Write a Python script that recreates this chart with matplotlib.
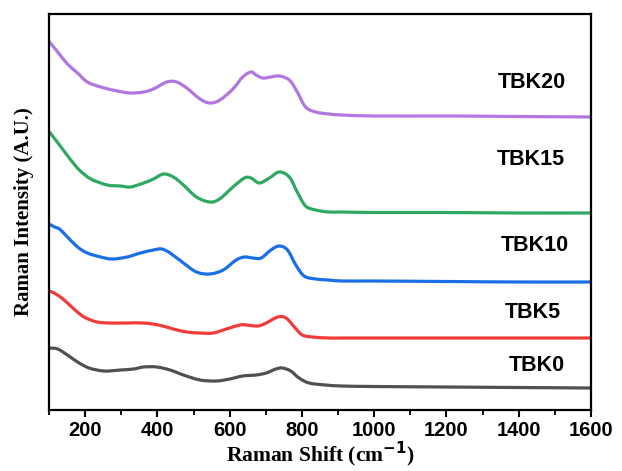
import matplotlib
matplotlib.use("Agg")
import numpy as np
import matplotlib.pyplot as plt
from matplotlib.path import Path
from matplotlib.patches import PathPatch
from matplotlib.ticker import MultipleLocator

# Raman spectra (stacked, arbitrary units)
x_tbk20 = [101, 124, 151, 179, 206, 243, 289, 325, 362, 389, 426, 453, 481, 518, 545, 573,
           609, 636, 659, 673, 691, 714, 737, 765, 787, 810, 838, 874, 911, 1000, 1200, 1400, 1600]
y_tbk20 = [366, 356, 344, 335, 326, 321, 317, 315, 316, 319, 326, 326, 320, 309, 305, 308,
           319, 331, 336, 333, 330, 331, 332, 328, 316, 301, 296, 294, 293, 292, 292, 291.5, 291]

x_tbk15 = [101, 129, 156, 184, 216, 261, 298, 325, 362, 389, 417, 444, 472, 508, 545, 572,
           609, 641, 659, 682, 710, 737, 765, 787, 810, 838, 874, 911, 1000, 1200, 1400, 1600]
y_tbk15 = [276, 263, 250, 238, 229, 223, 222, 221, 225, 229, 234, 231, 223, 211, 206, 209,
           221, 230, 230, 225, 230, 236, 231, 216, 202, 198, 196, 196, 195.5, 195.5, 195, 195]

x_tbk10 = [101, 115, 129, 151, 179, 206, 243, 275, 316, 353, 389, 412, 435, 472, 508, 545,
           582, 618, 641, 664, 687, 714, 737, 760, 783, 806, 838, 874, 911, 1000, 1200, 1400, 1600]
y_tbk10 = [184, 181, 179, 171, 161, 155, 151, 149, 151, 155, 158, 159, 155, 145, 136, 134,
           138, 148, 151, 150, 150, 158, 162, 158, 143, 132, 129, 128, 127, 127, 126.5, 126, 126]

x_tbk5 = [101, 119, 142, 169, 197, 233, 270, 316, 362, 403, 444, 481, 518, 554, 591, 628,
          646, 678, 701, 733, 756, 779, 801, 829, 874, 911, 1000, 1200, 1400, 1600]
y_tbk5 = [117, 114, 108, 99, 91, 86, 85, 85, 85, 83, 79, 76, 75, 75, 79, 83,
          83, 82, 85, 91, 90, 81, 73, 71, 70, 70, 70, 70, 70, 70]

x_tbk0 = [101, 124, 151, 179, 211, 252, 298, 334, 362, 398, 435, 472, 518, 563, 600, 636,
          673, 701, 728, 746, 769, 792, 820, 865, 911, 1000, 1200, 1400, 1600]
y_tbk0 = [60, 59, 53, 46, 40, 37, 38, 39, 41, 41, 38, 33, 28, 27, 29, 32,
          33, 35, 39, 40, 37, 30, 25, 23, 22, 21.5, 21, 20.5, 20]

names = ["TBK20", "TBK15", "TBK10", "TBK5", "TBK0"]
xs_all = [x_tbk20, x_tbk15, x_tbk10, x_tbk5, x_tbk0]
ys_all = [y_tbk20, y_tbk15, y_tbk10, y_tbk5, y_tbk0]
colors = ["#b077e0", "#2ea862", "#1a6ee6", "#f23a3a", "#505050"]
label_pos = [(1436, 325), (1433, 248), (1444, 162), (1439, 96), (1449, 43)]


def smooth_path(xs, ys):
    """Cubic Catmull-Rom curve through the given points as a Bezier path."""
    p = np.column_stack([xs, ys]).astype(float)
    ext = np.vstack([p[0], p, p[-1]])
    verts = [p[0]]
    codes = [Path.MOVETO]
    for i in range(1, len(ext) - 2):
        p0, p1, p2, p3 = ext[i - 1], ext[i], ext[i + 1], ext[i + 2]
        verts += [p1 + (p2 - p0) / 6.0, p2 - (p3 - p1) / 6.0, p2]
        codes += [Path.CURVE4] * 3
    return Path(verts, codes)


fig = plt.figure(figsize=(6.22, 4.71), dpi=100)
ax = fig.add_axes([0.0788, 0.1295, 0.8714, 0.8408])

for name, xs, ys, color, (lx, ly) in zip(names, xs_all, ys_all, colors, label_pos):
    ax.add_patch(PathPatch(smooth_path(xs, ys), facecolor="none", edgecolor=color,
                           lw=2.3, capstyle="round", joinstyle="round"))
    ax.text(lx, ly, name, ha="center", va="center", fontsize=15.5,
            fontweight="bold", family="Liberation Sans")

ax.set_xlim(100, 1600)
ax.set_ylim(-2, 394)
ax.xaxis.set_major_locator(MultipleLocator(200))
ax.xaxis.set_minor_locator(MultipleLocator(100))
ax.set_yticks([])

for sp in ax.spines.values():
    sp.set_linewidth(1.6)

ax.tick_params(axis="x", which="major", direction="out", length=5, width=1.5,
               labelsize=14.5, pad=3)
ax.tick_params(axis="x", which="minor", direction="out", length=3.5, width=1.3)
for lab in ax.get_xticklabels():
    lab.set_fontweight("bold")
    lab.set_family("Liberation Sans")

ax.set_xlabel("Raman Shift (cm$^{\\mathbf{-1}}$)", fontsize=15.5, fontweight="bold",
              family="Liberation Serif", labelpad=0)
ax.set_ylabel("Raman Intensity (A.U.)", fontsize=15, fontweight="bold",
              family="Liberation Serif", labelpad=11)

fig.savefig("out.png", dpi=100)
